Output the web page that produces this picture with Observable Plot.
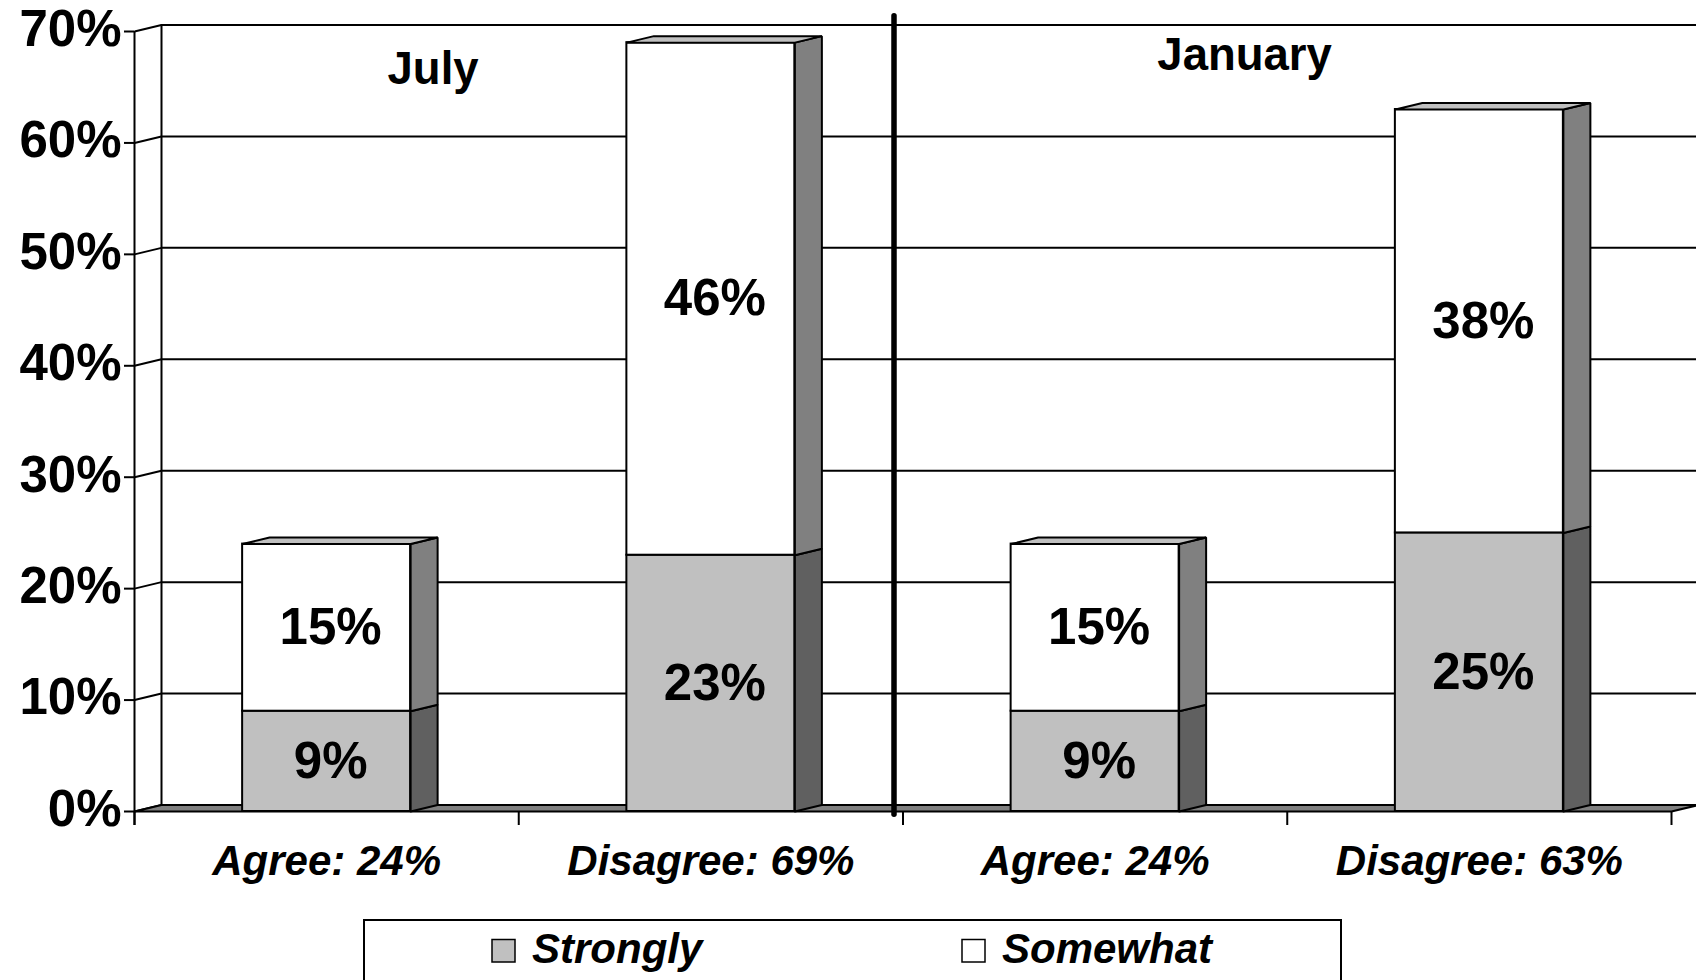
<!DOCTYPE html>
<html>
<head>
<meta charset="utf-8">
<script src="https://cdn.jsdelivr.net/npm/d3@7"></script>
<script src="https://cdn.jsdelivr.net/npm/@observablehq/plot@0.6"></script>
<style>
  html, body { margin: 0; padding: 0; background: #fff; }
  #chart svg { display: block; }
  #legend svg { display: block; }
</style>
</head>
<body>
<div id="chart"></div>
<div id="legend"></div>
<script>
// ---- data ----
const categories = ["Agree: 24%", "Disagree: 69%", "Agree: 24%", "Disagree: 63%"];
const periods = ["July", "January"];
const strongly = [9, 23, 9, 25];
const somewhat = [15, 46, 15, 38];
const yTicks = [0, 10, 20, 30, 40, 50, 60, 70];
const seriesNames = ["Strongly", "Somewhat"];

// ---- geometry (3-D projection constants) ----
const X0 = 134, X1 = 1671, Y0 = 811, Y1 = 31;
const pxPerCat = (X1 - X0) / categories.length;
const pxPerPct = (Y0 - Y1) / 70;
const DX = 27 / pxPerCat;     // depth, in category units
const DY = 6.5 / pxPerPct;    // depth, in percent units
const half = 0.2186;          // half bar width, in category units
const FONT = "Liberation Sans, Arial, sans-serif";

const bars = categories.map((c, i) => ({
  i, c, s: strongly[i], w: somewhat[i], t: strongly[i] + somewhat[i],
  x1: i + 0.5 - half, x2: i + 0.5 + half
}));

function poly(id, pts) { return pts.map(([x, y]) => ({id, x, y})); }

const sideStrong = bars.flatMap(b => poly("ss" + b.i, [
  [b.x2, 0], [b.x2 + DX, DY], [b.x2 + DX, b.s + DY], [b.x2, b.s], [b.x2, 0]]));
const sideSome = bars.flatMap(b => poly("sw" + b.i, [
  [b.x2, b.s], [b.x2 + DX, b.s + DY], [b.x2 + DX, b.t + DY], [b.x2, b.t], [b.x2, b.s]]));
const tops = bars.flatMap(b => poly("tp" + b.i, [
  [b.x1, b.t], [b.x2, b.t], [b.x2 + DX, b.t + DY], [b.x1 + DX, b.t + DY], [b.x1, b.t]]));
const floor = poly("floor", [[0, 0], [4, 0], [4 + DX, DY], [DX, DY], [0, 0]]);

const labels = bars.flatMap(b => [
  {x: b.i + 0.5, y: b.s / 2, text: b.s + "%"},
  {x: b.i + 0.5, y: b.s + b.w / 2, text: b.w + "%"}
]);

const titles = [
  {text: periods[0], x: 0.777, y: 66.6},
  {text: periods[1], x: 2.889, y: 67.85}
];

const common = {stroke: "black", strokeWidth: 2, strokeLinejoin: "miter"};

const chart = Plot.plot({
  width: 1696,
  height: 918,
  margin: 0,
  style: {background: "white", fontFamily: FONT, overflow: "visible"},
  x: {type: "linear", domain: [0, 4], range: [X0, X1], axis: null},
  y: {type: "linear", domain: [0, 70], range: [Y0, Y1], axis: null},
  marks: [
    // back wall gridlines
    Plot.ruleY(yTicks.filter(d => d > 0), {y: d => d + DY, x1: () => DX, x2: () => 4 + 3 * DX, stroke: "black", strokeWidth: 2}),
    // left wall
    Plot.ruleX([DX], {x: d => d, y1: () => DY, y2: () => 70 + DY, stroke: "black", strokeWidth: 2}),
    Plot.link(yTicks, {x1: () => 0, y1: d => d, x2: () => DX, y2: d => d + DY, stroke: "black", strokeWidth: 2}),
    Plot.ruleX([0], {x: d => d, y1: () => -14 / pxPerPct, y2: () => 70, stroke: "black", strokeWidth: 2}),
    // y ticks
    Plot.ruleY(yTicks, {y: d => d, x1: () => -10 / pxPerCat, x2: () => 0, stroke: "black", strokeWidth: 2}),
    Plot.text(yTicks, {x: () => 0, y: d => d, text: d => d + "%", textAnchor: "end", dx: -13, dy: -2,
      fontSize: 51, fontWeight: "bold", fill: "black"}),
    // floor
    Plot.line(floor, {x: "x", y: "y", z: "id", fill: "#808080", ...common}),
    // x ticks
    Plot.ruleX([0, 1, 2, 3, 4], {x: d => d, y1: () => 0, y2: () => -14 / pxPerPct, stroke: "black", strokeWidth: 2}),
    // divider between periods
    Plot.ruleX([2], {x: d => d, y1: () => -0.3, y2: () => 71.37, dx: -9, stroke: "black", strokeWidth: 5.5, strokeLinecap: "round"}),
    // bars: front faces
    Plot.rect(bars, {x1: "x1", x2: "x2", y1: () => 0, y2: "s", fill: "#c0c0c0", ...common}),
    Plot.rect(bars, {x1: "x1", x2: "x2", y1: "s", y2: "t", fill: "white", ...common}),
    // bars: side and top faces
    Plot.line(sideStrong, {x: "x", y: "y", z: "id", fill: "#606060", ...common}),
    Plot.line(sideSome, {x: "x", y: "y", z: "id", fill: "#808080", ...common}),
    Plot.line(tops, {x: "x", y: "y", z: "id", fill: "#c0c0c0", ...common}),
    // data labels
    Plot.text(labels, {x: "x", y: "y", text: "text", dx: 4, fontSize: 51, fontWeight: "bold", fill: "black"}),
    // category labels
    Plot.text(bars, {x: d => d.i + 0.5, y: () => 0, text: "c", dy: 50.5, fontSize: 42, fontWeight: "bold", fontStyle: "italic", fill: "black"}),
    // period titles
    Plot.text(titles, {x: "x", y: "y", text: "text", fontSize: 45.5, fontWeight: "bold", fill: "black"})
  ]
});
document.getElementById("chart").appendChild(chart);

// ---- legend ----
const legendColors = ["#c0c0c0", "#ffffff"];
const legendX = [492, 962];
const lg = d3.select("#legend").append("svg").attr("width", 1696).attr("height", 62);
lg.append("rect").attr("x", 364).attr("y", 2).attr("width", 977).attr("height", 120)
  .attr("fill", "white").attr("stroke", "black").attr("stroke-width", 2);
seriesNames.forEach((name, k) => {
  lg.append("rect").attr("x", legendX[k]).attr("y", 21.5).attr("width", 23).attr("height", 22.5)
    .attr("fill", legendColors[k]).attr("stroke", "black").attr("stroke-width", 1.5);
  lg.append("text").attr("x", legendX[k] + 40).attr("y", 44.5)
    .attr("font-family", FONT).attr("font-size", 42).attr("font-weight", "bold").attr("font-style", "italic")
    .text(name);
});
</script>
</body>
</html>
